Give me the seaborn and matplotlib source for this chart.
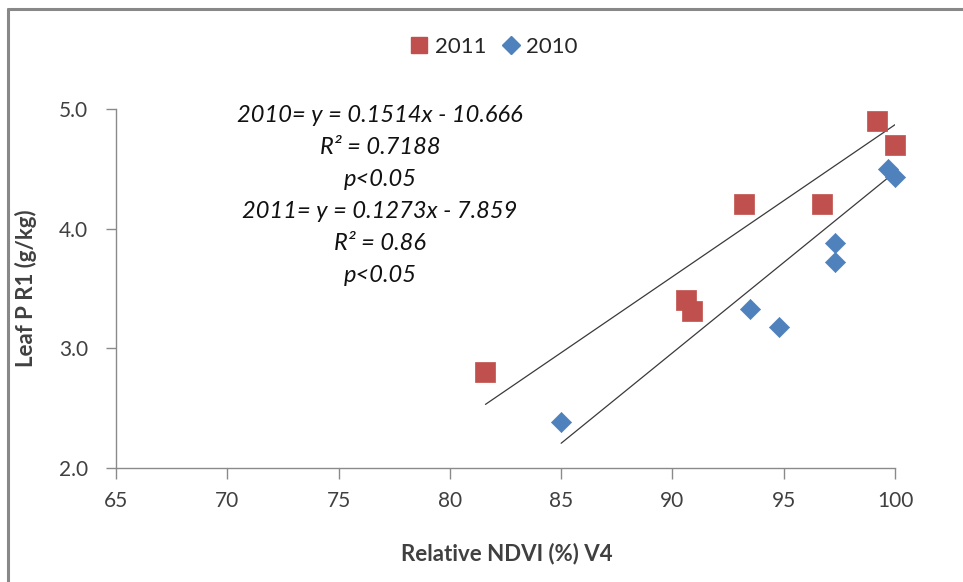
import numpy as np
import pandas as pd
import matplotlib
matplotlib.use("Agg")
import matplotlib.pyplot as plt
from matplotlib.lines import Line2D
import seaborn as sns

# Relative NDVI at V4 (%) and leaf P at R1 (g/kg)
ndvi_2011 = [81.6, 90.6, 90.9, 93.2, 96.7, 99.2, 100.0]
leafp_2011 = [2.80, 3.40, 3.31, 4.21, 4.21, 4.90, 4.70]
ndvi_2010 = [85.0, 93.5, 94.8, 97.3, 97.3, 99.7, 100.0]
leafp_2010 = [2.38, 3.33, 3.18, 3.88, 3.72, 4.50, 4.43]

years = ["2011", "2010"]
# linear trend coefficients for each year (same order as years)
slopes = [0.1273, 0.1514]
intercepts = [-7.859, -10.666]

x_ticks = [65, 70, 75, 80, 85, 90, 95, 100]
y_ticks = [2.0, 3.0, 4.0, 5.0]
fit_text = ["2010= y = 0.1514x - 10.666", "R² = 0.7188", "p<0.05",
            "2011= y = 0.1273x - 7.859", "R² = 0.86", "p<0.05"]

df = pd.DataFrame({
    "ndvi": ndvi_2011 + ndvi_2010,
    "leafp": leafp_2011 + leafp_2010,
    "year": [years[0]] * len(ndvi_2011) + [years[1]] * len(ndvi_2010),
})

sns.set_theme(style="white")
plt.rcParams["font.family"] = ["Lato", "DejaVu Sans"]

W, H = 963, 582
fig = plt.figure(figsize=(W / 100, H / 100), dpi=100)
ax_l, ax_r, ax_t, ax_b = 116, 895, 109.3, 467.5
ax = fig.add_axes([ax_l / W, 1 - ax_b / H, (ax_r - ax_l) / W, (ax_b - ax_t) / H])

red = "#C0504D"
blue = "#4F81BD"
line_col = "#3a3a3a"

# trend lines over each year's NDVI range
for yr, m, b in zip(years, slopes, intercepts):
    sub = df[df["year"] == yr]
    xs = np.array([sub["ndvi"].min(), sub["ndvi"].max()])
    trend = pd.DataFrame({"ndvi": xs, "leafp": m * xs + b})
    sns.lineplot(data=trend, x="ndvi", y="leafp", ax=ax, color=line_col,
                 lw=0.9, zorder=2)

sns.scatterplot(data=df[df["year"] == "2011"], x="ndvi", y="leafp", ax=ax,
                marker="s", s=225, color=red, edgecolor=red, linewidth=0.5,
                legend=False, zorder=3, clip_on=False)
sns.scatterplot(data=df[df["year"] == "2010"], x="ndvi", y="leafp", ax=ax,
                marker="D", s=105, color=blue, edgecolor=blue, linewidth=0.5,
                legend=False, zorder=3, clip_on=False)

ax.set_xlim(65, 100)
ax.set_ylim(2.0, 5.0)
ax.set_xticks(x_ticks)
ax.set_xticklabels([str(t) for t in x_ticks])
ax.set_yticks(y_ticks)
ax.set_yticklabels([f"{t:.1f}" for t in y_ticks])

for side in ["top", "right"]:
    ax.spines[side].set_visible(False)
for side in ["left", "bottom"]:
    ax.spines[side].set_color("#8a8a8a")
    ax.spines[side].set_linewidth(1.0)
ax.tick_params(axis="both", which="major", direction="out", width=1.0,
               color="#8a8a8a", labelsize=15, labelcolor="#404040",
               bottom=True, left=True)
ax.tick_params(axis="y", length=7, pad=13)
ax.tick_params(axis="x", length=8, pad=9)

ax.set_xlabel("Relative NDVI (%) V4", fontsize=16, fontweight="bold",
              color="#404040")
ax.set_ylabel("Leaf P R1 (g/kg)", fontsize=16, fontweight="bold",
              color="#404040")
ax.xaxis.set_label_coords((507 - ax_l) / (ax_r - ax_l), (ax_b - 543) / (ax_b - ax_t))
ax.yaxis.set_label_coords((37 - ax_l) / (ax_r - ax_l), 0.5)

# regression summary text
for i, t in enumerate(fit_text):
    fig.text(380 / W, 1 - (115 + 32.2 * i) / H, t, ha="center", va="center",
             fontsize=17, style="italic", color="#111111")

handles = [
    Line2D([], [], marker="s", linestyle="none", markersize=12,
           markerfacecolor=red, markeredgecolor=red, label="2011"),
    Line2D([], [], marker="D", linestyle="none", markersize=9.5,
           markerfacecolor=blue, markeredgecolor=blue, label="2010"),
]
fig.legend(handles=handles, loc="center", bbox_to_anchor=(494 / W, 1 - 47 / H),
           ncol=2, frameon=False, fontsize=16, handlelength=0.8,
           handletextpad=0.3, columnspacing=0.7, labelcolor="#262626")

# chart area border
fig.add_artist(Line2D([8 / W, 1], [1 - 9 / H, 1 - 9 / H],
                      transform=fig.transFigure, color="#888888", lw=2.2))
fig.add_artist(Line2D([8 / W, 8 / W], [1 - 9 / H, 0],
                      transform=fig.transFigure, color="#888888", lw=2.2))

fig.savefig("out.png", dpi=100)
